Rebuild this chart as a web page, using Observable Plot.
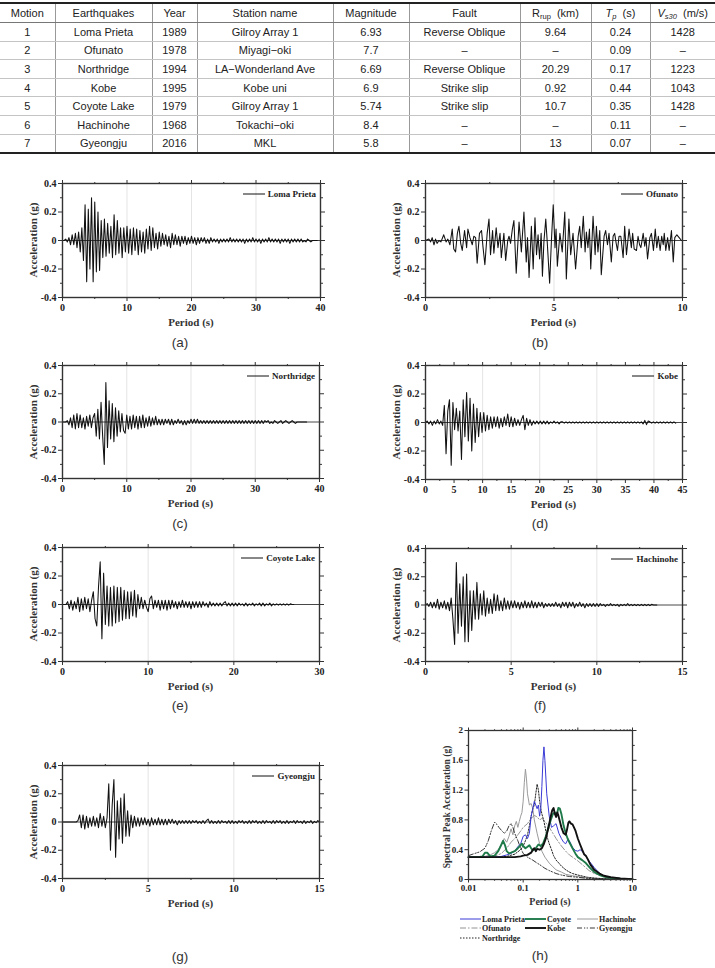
<!DOCTYPE html>
<html><head><meta charset="utf-8">
<script src="https://cdn.jsdelivr.net/npm/d3@7"></script>
<script src="https://cdn.jsdelivr.net/npm/@observablehq/plot@0.6"></script>
<style>
body{margin:0;background:#fff;}
#page{position:relative;width:715px;height:968px;overflow:hidden;background:#fff;}
#tbl{position:absolute;left:0;top:2px;border-collapse:collapse;table-layout:fixed;width:715px;font-family:"Liberation Sans",Arial,sans-serif;font-size:11px;color:#222;}
#tbl td,#tbl th{font-weight:normal;text-align:center;padding:0;border-left:1px solid #999;border-right:1px solid #999;border-bottom:1px solid #c4c4c4;height:17.6px;line-height:16px;white-space:nowrap;}
#tbl th{border-top:2px solid #222;border-bottom:1px solid #777;height:18px;}
#tbl tr:last-child td{border-bottom:2px solid #222;}
#tbl td:first-child,#tbl th:first-child{border-left:none;}
#tbl td:last-child,#tbl th:last-child{border-right:none;}
#tbl sub{font-size:7.5px;vertical-align:-2px;line-height:0;}
.cap{position:absolute;transform:translate(-50%,-50%);font-family:"Liberation Sans",Arial,sans-serif;font-size:13.5px;color:#333;white-space:nowrap;}
.axl{position:absolute;font-family:"Liberation Serif","Times New Roman",serif;font-weight:bold;color:#333;white-space:nowrap;}
.leg{position:absolute;display:flex;align-items:center;font-family:"Liberation Serif","Times New Roman",serif;font-weight:bold;color:#222;white-space:nowrap;}
</style></head>
<body><div id="page"></div>
<script>
// ---------------- table data ----------------
const motions = [1,2,3,4,5,6,7];
const earthquakes = ["Loma Prieta","Ofunato","Northridge","Kobe","Coyote Lake","Hachinohe","Gyeongju"];
const years = [1989,1978,1994,1995,1979,1968,2016];
const stations = ["Gilroy Array 1","Miyagi\u2212oki","LA\u2212Wonderland Ave","Kobe uni","Gilroy Array 1","Tokachi\u2212oki","MKL"];
const magnitudes = ["6.93","7.7","6.69","6.9","5.74","8.4","5.8"];
const faults = ["Reverse Oblique","\u2013","Reverse Oblique","Strike slip","Strike slip","\u2013","\u2013"];
const rrup = ["9.64","\u2013","20.29","0.92","10.7","\u2013","13"];
const tp = ["0.24","0.09","0.17","0.44","0.35","0.11","0.07"];
const vs30 = ["1428","\u2013","1223","1043","1428","\u2013","\u2013"];
const headers = ["Motion","Earthquakes","Year","Station name","Magnitude","Fault","R<sub>rup</sub>&nbsp;&nbsp;(km)","<i>T<sub>p</sub></i>&nbsp;&nbsp;(s)","<i>V<sub>s30</sub></i>&nbsp;&nbsp;(m/s)"];

// ---------------- acceleration time histories (units of 0.01 g, uniform step) ----------------
const lomaDt = 0.25;
const lomaAcc = [0,0,1,-1, 2,-3,4,-3, 5,-5,6,-8, 9,-14,25,-29, 22,-20,30,-29, 27,-22,20,-21, 14,-12,15,-11,
 12,-9,10,-12, 18,-10,14,-9, 9,-12,9,-8, 10,-9,8,-10, 9,-7,8,-10, 7,-8,6,-9, 8,-6,10,-7, 9,-5,5,-6,
 6,-4,5,-3, 4,-4,3,-5, 5,-3,4,-3, 3,-4,3,-2, 3,-3,2,-2, 3,-2,2,-3, 2,-2,2,-1, 2,-2,1,-2, 2,-1,1,-1,
 1,-2,1,-1, 1,-1,1,-1, 2,-1,1,-1, 1,-1,1,-1, 1,-2,1,-1, 1,-1,2,-1, 1,-1,1,-2, 1,-1,1,-1, 2,-1,1,-1,
 1,-1,1,-2, 1,-1,1,-1, 1,-2,1,-1, 1,-1,1,-1, 1,-1,0,-1, 1,0,-1,0, 0,0,0];

// Ofunato: [time s, acceleration g]
const ofunatoAcc = [[0,0],[0.13,0.01],[0.2,-0.01],[0.26,0.02],[0.33,-0.03],[0.39,0.01],[0.45,-0.02],[0.52,0.0],[0.6,-0.01],[0.71,0.04],[0.8,-0.01],[0.87,0.01],[0.95,-0.03],[1.04,0.08],[1.1,-0.06],[1.17,-0.08],[1.24,0.05],[1.30,0.10],[1.37,-0.02],[1.43,-0.07],[1.52,0.07],[1.60,-0.05],[1.65,0.08],[1.73,0.02],[1.82,-0.03],[1.88,0.03],[1.95,0.02],[2.01,-0.16],[2.10,0.05],[2.18,0.07],[2.24,-0.05],[2.31,-0.17],[2.40,0.05],[2.47,0.15],[2.53,-0.10],[2.61,0.07],[2.66,-0.09],[2.75,0.09],[2.82,-0.05],[2.90,0.05],[2.95,-0.12],[3.05,0.05],[3.12,-0.14],[3.20,0.0],[3.25,0.03],[3.31,-0.02],[3.38,0.08],[3.44,0.14],[3.53,-0.23],[3.64,0.13],[3.73,-0.08],[3.83,0.20],[3.92,-0.15],[3.97,0.02],[4.03,-0.26],[4.12,0.10],[4.19,-0.20],[4.26,0.16],[4.32,-0.10],[4.38,0.04],[4.44,-0.13],[4.50,0.05],[4.55,-0.25],[4.61,0.0],[4.68,0.15],[4.74,-0.02],[4.83,-0.30],[4.90,0.0],[4.97,0.25],[5.04,-0.05],[5.08,0.08],[5.13,-0.18],[5.23,0.05],[5.32,-0.08],[5.37,0.06],[5.42,0.20],[5.48,-0.27],[5.58,0.15],[5.65,-0.10],[5.74,0.05],[5.84,-0.20],[5.94,0.03],[6.00,0.10],[6.06,-0.05],[6.14,0.17],[6.21,-0.08],[6.26,0.06],[6.32,-0.05],[6.38,0.08],[6.43,-0.20],[6.52,0.17],[6.60,-0.10],[6.65,0.10],[6.71,-0.08],[6.78,0.07],[6.84,-0.24],[6.95,0.03],[7.01,0.07],[7.08,-0.03],[7.14,0.05],[7.23,-0.15],[7.30,0.03],[7.36,0.05],[7.42,-0.02],[7.47,-0.07],[7.53,0.03],[7.60,0.03],[7.69,-0.12],[7.75,0.10],[7.82,-0.10],[7.92,0.08],[8.01,-0.05],[8.06,0.05],[8.12,-0.06],[8.21,-0.07],[8.27,0.03],[8.33,-0.03],[8.38,-0.05],[8.47,0.05],[8.53,-0.04],[8.58,0.02],[8.64,-0.13],[8.73,0.02],[8.79,0.05],[8.87,-0.07],[8.94,0.08],[9.00,-0.05],[9.06,0.03],[9.13,-0.07],[9.19,0.03],[9.25,-0.03],[9.29,0.05],[9.35,-0.07],[9.42,0.02],[9.48,-0.07],[9.57,0.07],[9.64,-0.15],[9.70,0.02],[9.78,0.04],[9.87,0.02],[9.96,0.0]];

const northDt = 0.25;
const northAcc = [0,0,0,1,-2,3,-4,5,-5,6,
 -4,5,-4,3,-5,4,-3,5,-4,3,
 6,-10,9,-12,14,-10,-30,28,-18,15,
 -12,13,-14,10,-10,8,-7,6,-6,-8,
 5,-5,4,-5,5,-4,4,-5,4,-4,
 5,-4,3,-3,4,-3,3,-2,4,-2,
 2,-2,2,-2,2,-1,2,-2,2,-2,
 1,-1,2,-1,1,-2,1,-2,1,-1,
 2,-1,2,-1,2,-1,1,-1,1,-1,
 1,-1,1,-1,1,-1,1,-1,1,-1,
 1,-1,1,-1,1,-1,1,-1,1,-1,
 1,-1,1,-1,1,-1,1,-1,1,-1,
 1,-1,1,-1,1,-1,1,0,1,-1,
 0,-1,1,0,-1,0,1,-1,0,1,
 0,-1,0,1,0,-1,0,0,0,0,
 0,0,0];

const kobeDt = 0.3;
const kobeAcc = [0,1,-1,1,-2,1,-1,2,-1,1,
 -2,12,-22,8,16,-30,14,-5,10,-6,
 8,-26,16,-10,21,-13,17,-20,13,-14,
 10,-10,7,-7,7,-6,5,-5,4,-4,
 4,-3,4,-4,3,-3,4,-2,6,-3,
 4,-3,3,-2,2,-2,2,5,-5,3,
 -2,2,-2,1,-1,1,-1,1,-1,1,
 -1,1,-1,0.5,-0.5,1,-0.5,0.5,-1,0.5,
 0.5,-0.5,0.5,-0.5,0.5,-0.5,0.5,-0.5,0.5,-0.5,
 0.5,-0.5,0.5,-0.5,0.5,-0.5,0.5,-0.5,0.5,-0.5,
 0.5,-0.5,0.5,-0.5,0.5,-0.5,0.5,-0.5,0.5,-0.5,
 0.5,-0.5,0.5,-0.5,0.5,-0.5,0.5,-0.5,0.5,-0.5,
 0.5,-0.5,0.5,-0.5,0.5,-0.5,
 0.5,-1,1.5,-1.5,1,
 0.5,-0.5,0.5,-0.5,0.5,-0.5,0.5,-0.5,0.5,-0.5,0.5,-0.5,0.5,-0.5,0.5,-0.5];

const coyoteDt = 0.2;
const coyoteAcc = [0,0,0,2,-3,3,-4,2,-3,5,
 -5,4,-4,5,-3,4,-5,3,9,-10,
 -15,12,30,-24,22,-14,13,-15,12,-15,
 13,-13,12,-12,12,-11,10,-10,9,-10,
 9,-8,10,-9,7,-3,5,-3,3,-2,
 -5,4,6,-3,3,-2,3,-4,3,-3,
 3,-4,3,-3,3,-2,2,-3,2,-2,
 3,-2,2,-2,2,-3,2,-2,2,-2,
 2,-2,2,-1,1,-2,2,-1,1,-1,
 1,-1,1,-1,1,2,-1,1,-1,1,
 -1,1,-1,1,-0.5,0.5,-1,1,-1,0.5,
 -0.5,1,-1,0.5,-0.5,1,-1,1,-1,0.5,
 -0.5,1,-1,0.5,-0.5,0.5,-0.5,0.5,-0.5,0.5,
 -0.5,0.5,-0.5,0.5,0,0];

const hachDt = 0.1;
const hachAcc = [0,1,-1,2,-2,2,-2,4,-3,2,
 -2,3,-3,2,-4,5,-10,-28,30,-20,
 15,-15,20,-26,22,-26,10,-18,10,-10,
 16,-10,8,-7,10,-8,5,-6,4,-6,
 8,-4,7,-4,3,-4,5,-3,3,-3,
 3,-2,3,-2,2,-3,2,-2,3,-2,
 2,-2,3,-2,2,-2,2,-1,2,-2,
 1,-1,1,-1,1,-1,2,-1,1,-2,
 2,-1,2,-2,2,-1,2,-2,1,-1,
 2,-1,1,-2,1,-1,1,-1,1,-1,
 1,-1,1,-0.5,0.5,-1,0.5,-0.5,1,-0.5,
 0.5,-0.5,0.5,-1,0.5,-0.5,0.5,-0.5,1,-0.5,
 0.5,-0.5,0.5,-0.5,0.5,-0.5,0.5,-0.5,0.5,-0.5,
 0.5,-0.5,0.5,0,0,0];

const gyeongDt = 0.1;
const gyeongAcc = [0,0,0,0,0,0,0,0,0,
 1,5,-4,5,-5,4,-4,3,-3,4,-3,3,-4,6,-3,4,-4,3,
 27,-20,12,30,-25,15,-12,17,-15,20,-10,8,-10,
 5,-4,4,-3,3,-3,3,-2,3,-2,2,-3,3,-2,2,-2,3,-2,2,-2,2,-2,2,-1,2,-1,1,-2,1,-1,1,
 -1,1,-1,1,-1,1,-0.5,1,-1,0.5, -1,1,-1,1,2,-1,1,-1,0.5,-1,
 1,-1,1,-0.5,0.5,-1,1,-1,1,-1, 0.5,-1,1,-0.5,1,-1,0.5,-1,1,-1,
 1,-0.5,1,-1,0.5,-1,1,-1,1,-0.5, 0.5,-1,1,-1,1,-0.5,1,-1,0.5,-1,
 1,-1,0.5,-0.5,1,-1,1,-0.5,0.5,-1, 1,-1,0.5,-0.5,1,-1,0.5,-0.5,1,0];

// ---------------- response spectra: [period s, spectral acceleration g] ----------------
const lomaSa = [[0.01,0.3],[0.02,0.3],[0.03,0.3],[0.04,0.31],[0.05,0.33],[0.06,0.35],[0.07,0.38],[0.08,0.44],[0.09,0.48],[0.1,0.58],[0.11,0.6],[0.12,0.55],[0.13,0.62],[0.14,0.85],[0.15,0.95],[0.16,1.05],[0.17,1.0],[0.18,0.95],[0.19,1.0],[0.2,0.85],[0.21,0.95],[0.22,1.25],[0.23,1.6],[0.24,1.78],[0.25,1.6],[0.27,1.15],[0.3,0.85],[0.33,0.7],[0.36,0.72],[0.4,0.75],[0.45,0.62],[0.5,0.55],[0.55,0.5],[0.6,0.48],[0.65,0.53],[0.7,0.52],[0.8,0.43],[0.9,0.39],[1.0,0.38],[1.1,0.4],[1.2,0.38],[1.4,0.31],[1.6,0.25],[2.0,0.16],[2.5,0.08],[3,0.05],[4,0.025],[6,0.012],[10,0.005]];
const coyoteSa = [[0.01,0.3],[0.015,0.3],[0.018,0.31],[0.02,0.36],[0.022,0.36],[0.025,0.31],[0.03,0.32],[0.035,0.38],[0.04,0.47],[0.043,0.52],[0.047,0.45],[0.05,0.38],[0.055,0.35],[0.06,0.36],[0.07,0.38],[0.08,0.42],[0.09,0.46],[0.095,0.48],[0.1,0.45],[0.11,0.42],[0.12,0.44],[0.13,0.46],[0.14,0.42],[0.15,0.39],[0.17,0.42],[0.19,0.47],[0.21,0.45],[0.23,0.48],[0.26,0.58],[0.29,0.7],[0.32,0.8],[0.35,0.88],[0.38,0.9],[0.41,0.86],[0.44,0.96],[0.47,0.95],[0.5,0.88],[0.55,0.72],[0.6,0.62],[0.65,0.55],[0.7,0.5],[0.8,0.42],[0.9,0.35],[1.0,0.3],[1.2,0.26],[1.4,0.22],[1.7,0.15],[2,0.1],[2.5,0.06],[3,0.04],[4,0.02],[6,0.01],[10,0.005]];
const hachSa = [[0.01,0.3],[0.015,0.3],[0.02,0.31],[0.025,0.33],[0.03,0.36],[0.035,0.4],[0.04,0.47],[0.045,0.55],[0.05,0.5],[0.055,0.58],[0.06,0.68],[0.065,0.6],[0.07,0.72],[0.075,0.78],[0.08,0.7],[0.085,0.78],[0.09,0.85],[0.095,0.9],[0.1,1.05],[0.105,1.3],[0.11,1.48],[0.115,1.35],[0.12,1.15],[0.13,1.0],[0.14,1.02],[0.15,0.95],[0.16,0.8],[0.18,0.62],[0.2,0.48],[0.22,0.38],[0.25,0.3],[0.3,0.22],[0.35,0.17],[0.4,0.13],[0.5,0.1],[0.6,0.07],[0.8,0.05],[1,0.04],[1.5,0.02],[2,0.015],[3,0.01],[5,0.005],[10,0.002]];
const ofunatoSa = [[0.01,0.3],[0.02,0.3],[0.03,0.31],[0.04,0.35],[0.05,0.42],[0.06,0.5],[0.07,0.55],[0.08,0.6],[0.09,0.65],[0.1,0.7],[0.12,0.75],[0.14,0.82],[0.16,0.86],[0.18,0.84],[0.2,0.8],[0.22,0.82],[0.25,0.78],[0.3,0.7],[0.35,0.62],[0.4,0.55],[0.5,0.45],[0.6,0.38],[0.7,0.33],[0.8,0.3],[1,0.25],[1.3,0.18],[1.6,0.12],[2,0.08],[3,0.04],[5,0.015],[10,0.005]];
const northSa = [[0.01,0.3],[0.03,0.3],[0.05,0.31],[0.07,0.34],[0.09,0.4],[0.1,0.45],[0.11,0.52],[0.12,0.6],[0.13,0.72],[0.14,0.85],[0.15,0.95],[0.16,1.0],[0.17,1.15],[0.18,1.28],[0.19,1.2],[0.2,1.05],[0.21,0.95],[0.22,0.88],[0.24,0.78],[0.26,0.65],[0.28,0.55],[0.3,0.48],[0.33,0.4],[0.36,0.32],[0.4,0.26],[0.45,0.22],[0.5,0.18],[0.6,0.13],[0.7,0.1],[0.8,0.08],[1,0.06],[1.5,0.03],[2,0.02],[3,0.01],[10,0.002]];
const kobeSa = [[0.01,0.3],[0.03,0.3],[0.05,0.3],[0.07,0.3],[0.09,0.31],[0.1,0.32],[0.12,0.33],[0.14,0.36],[0.15,0.4],[0.16,0.42],[0.17,0.38],[0.18,0.41],[0.2,0.4],[0.22,0.42],[0.24,0.48],[0.26,0.55],[0.28,0.65],[0.3,0.75],[0.32,0.85],[0.34,0.93],[0.36,0.96],[0.38,0.88],[0.4,0.84],[0.42,0.9],[0.44,0.86],[0.47,0.78],[0.5,0.7],[0.55,0.62],[0.6,0.6],[0.63,0.66],[0.67,0.76],[0.7,0.78],[0.75,0.75],[0.8,0.74],[0.85,0.7],[0.9,0.66],[1.0,0.55],[1.1,0.47],[1.2,0.4],[1.3,0.34],[1.4,0.32],[1.5,0.28],[1.7,0.2],[2,0.13],[2.5,0.08],[3,0.05],[4,0.03],[6,0.015],[10,0.005]];
const gyeongSa = [[0.01,0.32],[0.013,0.35],[0.016,0.37],[0.02,0.42],[0.023,0.52],[0.026,0.65],[0.03,0.77],[0.033,0.74],[0.036,0.7],[0.04,0.66],[0.045,0.62],[0.05,0.65],[0.055,0.72],[0.06,0.75],[0.065,0.7],[0.07,0.62],[0.08,0.52],[0.09,0.42],[0.1,0.35],[0.12,0.3],[0.15,0.26],[0.18,0.22],[0.2,0.2],[0.25,0.15],[0.3,0.12],[0.4,0.08],[0.5,0.06],[0.7,0.04],[1,0.03],[1.5,0.015],[2,0.01],[3,0.005],[10,0.002]];

// ---------------- axis ticks ----------------
const accMajor = [-0.4,-0.2,0,0.2,0.4];
const accMinor = [-0.3,-0.1,0.1,0.3];
const saMajor = [0,0.4,0.8,1.2,1.6,2];
const saMinor = [0.2,0.6,1.0,1.4,1.8];
const periodMajor = [0.01,0.1,1,10];
const periodMinor = [0.02,0.03,0.04,0.05,0.06,0.07,0.08,0.09,0.2,0.3,0.4,0.5,0.6,0.7,0.8,0.9,2,3,4,5,6,7,8,9];

// ================= rendering =================
const page = document.getElementById("page");

// table
(function(){
  const t = document.createElement("table"); t.id = "tbl";
  const widths = [55,97,45,136,76,111,71,59,65];
  let html = "<colgroup>" + widths.map(w=>`<col style="width:${w}px">`).join("") + "</colgroup>";
  html += "<tr>" + headers.map(h=>`<th>${h}</th>`).join("") + "</tr>";
  motions.forEach((m,i)=>{
    html += "<tr>" + [m,earthquakes[i],years[i],stations[i],magnitudes[i],faults[i],rrup[i],tp[i],vs30[i]].map(v=>`<td>${v}</td>`).join("") + "</tr>";
  });
  t.innerHTML = html;
  page.appendChild(t);
})();

function addDiv(cls, html, css){ const d=document.createElement("div"); d.className=cls; d.innerHTML=html; d.style.cssText+=css; page.appendChild(d); return d; }
function place(svg, left, top){ svg.style.position="absolute"; svg.style.left=left+"px"; svg.style.top=top+"px"; page.appendChild(svg); }

const ML=62, MR=14, MT=10, MB=30;
const axisStyle = {fontFamily:"'Liberation Serif','Times New Roman',serif", fontWeight:"bold", fontSize:"10px", color:"#222", background:"transparent", overflow:"visible"};
const fmtAcc = d => d===0 ? "0" : d.toFixed(1);

function frameAxes(xMaj, xMin, yMaj, yMin, xFmt, yFmt, tsz){
  return [
    Plot.axisX(xMaj,{anchor:"bottom",tickSize:tsz,tickPadding:2,tickFormat:xFmt,label:null,stroke:"#333"}),
    Plot.axisX(xMin,{anchor:"bottom",tickSize:tsz/2,fill:"none",label:null,stroke:"#333"}),
    Plot.axisX(xMaj,{anchor:"top",tickSize:tsz,fill:"none",label:null,stroke:"#333"}),
    Plot.axisX(xMin,{anchor:"top",tickSize:tsz/2,fill:"none",label:null,stroke:"#333"}),
    Plot.axisY(yMaj,{anchor:"left",tickSize:tsz,tickPadding:2,tickFormat:yFmt,label:null,stroke:"#333"}),
    Plot.axisY(yMin,{anchor:"left",tickSize:tsz/2,fill:"none",label:null,stroke:"#333"}),
    Plot.axisY(yMaj,{anchor:"right",tickSize:tsz,fill:"none",label:null,stroke:"#333"}),
    Plot.axisY(yMin,{anchor:"right",tickSize:tsz/2,fill:"none",label:null,stroke:"#333"})
  ];
}

function toRows(vals, dt){ return vals.map((v,i)=>({t:i*dt, a:v/100})); }

const panels = [
  {name:"Loma Prieta", rows:toRows(lomaAcc,lomaDt), xMax:40, step:10, grid:[10,20,30], L:62,T:183,R:320,B:297, cap:"(a)", cx:180, cy:342},
  {name:"Ofunato", rows:ofunatoAcc.map(([t,a])=>({t,a})), xMax:10, step:5, grid:[5], L:425,T:183,R:682,B:297, cap:"(b)", cx:540, cy:342},
  {name:"Northridge", rows:toRows(northAcc,northDt), xMax:40, step:10, grid:[10,20,30], L:62,T:365,R:319,B:478, cap:"(c)", cx:180, cy:523},
  {name:"Kobe", rows:toRows(kobeAcc,kobeDt), xMax:45, step:5, grid:[10,20,30,40], L:425,T:365,R:682,B:479, cap:"(d)", cx:540, cy:523},
  {name:"Coyote Lake", rows:toRows(coyoteAcc,coyoteDt), xMax:30, step:10, grid:[10,20], L:62,T:547,R:319,B:661, cap:"(e)", cx:180, cy:705},
  {name:"Hachinohe", rows:toRows(hachAcc,hachDt), xMax:15, step:5, grid:[5,10], L:425,T:548,R:682,B:661, cap:"(f)", cx:540, cy:705},
  {name:"Gyeongju", rows:toRows(gyeongAcc,gyeongDt), xMax:15, step:5, grid:[5,10], L:62,T:765,R:319,B:878, cap:"(g)", cx:180, cy:956}
];

panels.forEach(p=>{
  const fw=p.R-p.L, fh=p.B-p.T;
  const xMaj = d3.range(0, p.xMax+1e-9, p.step);
  const xMin = d3.range(p.step/2, p.xMax, p.step);
  const svg = Plot.plot({
    width: fw+ML+MR, height: fh+MT+MB, marginLeft:ML, marginRight:MR, marginTop:MT, marginBottom:MB,
    x:{domain:[0,p.xMax]}, y:{domain:[-0.4,0.4]},
    style: axisStyle,
    marks:[
      Plot.gridX(p.grid,{stroke:"#d8d8d8",strokeOpacity:1,strokeWidth:0.7}),
      Plot.ruleY([0],{stroke:"#333",strokeWidth:0.9}),
      Plot.line(p.rows,{x:"t",y:"a",stroke:"#111",strokeWidth:1.05}),
      Plot.frame({stroke:"#333",strokeWidth:1.4}),
      ...frameAxes(xMaj,xMin,accMajor,accMinor,d=>String(d),fmtAcc,4)
    ]
  });
  place(svg, p.L-ML, p.T-MT);
  addDiv("axl","Acceleration (g)",`left:${p.L-29}px;top:${(p.T+p.B)/2}px;font-size:11px;transform:translate(-50%,-50%) rotate(-90deg);`);
  addDiv("axl","Period (s)",`left:${(p.L+p.R)/2}px;top:${p.B+25}px;font-size:11px;transform:translate(-50%,-50%);`);
  addDiv("leg",`<svg width="22" height="4"><line x1="0" y1="2" x2="22" y2="2" stroke="#111" stroke-width="1"/></svg><span style="margin-left:3px">${p.name}</span>`,
    `right:${715-(p.R-4)}px;top:${p.T+5}px;height:12px;font-size:9px;`);
  addDiv("cap",p.cap,`left:${p.cx}px;top:${p.cy}px;`);
});

// ---------------- (h) response spectra ----------------
const spectra = [
  {name:"Hachinohe", data:hachSa, stroke:"#9a9a9a", w:1, dash:null},
  {name:"Ofunato", data:ofunatoSa, stroke:"#888", w:0.9, dash:"6,2,1.5,2"},
  {name:"Gyeongju", data:gyeongSa, stroke:"#222", w:0.9, dash:"5,2,1.2,1.5,1.2,2"},
  {name:"Northridge", data:northSa, stroke:"#222", w:1, dash:"1.5,1.5"},
  {name:"Loma Prieta", data:lomaSa, stroke:"#3a3ad6", w:1, dash:null},
  {name:"Coyote", data:coyoteSa, stroke:"#1f7a4a", w:1.9, dash:null},
  {name:"Kobe", data:kobeSa, stroke:"#111", w:1.9, dash:null}
];
(function(){
  const L=468,T=730,R=632,B=879, fw=R-L, fh=B-T;
  const svg = Plot.plot({
    width: fw+ML+MR, height: fh+MT+MB, marginLeft:ML, marginRight:MR, marginTop:MT, marginBottom:MB,
    x:{type:"log", domain:[0.01,10]}, y:{domain:[0,2]},
    style: {...axisStyle, fontSize:"9px"},
    marks:[
      ...spectra.map(s=>Plot.line(s.data,{x:d=>d[0],y:d=>d[1],stroke:s.stroke,strokeWidth:s.w,strokeDasharray:s.dash||undefined})),
      Plot.frame({stroke:"#333",strokeWidth:1.3}),
      ...frameAxes(periodMajor,periodMinor,saMajor,saMinor,d=>String(d),d=>String(d),3.5)
    ]
  });
  place(svg, L-ML, T-MT);
  addDiv("axl","Spectral Peak Acceleration (g)",`left:${L-21}px;top:${(T+B)/2+2}px;font-size:9.5px;transform:translate(-50%,-50%) rotate(-90deg);`);
  addDiv("axl","Period (s)",`left:${(L+R)/2}px;top:${B+22}px;font-size:10px;transform:translate(-50%,-50%);`);
  const legPos = {"Loma Prieta":[460,919],"Coyote":[525,919],"Hachinohe":[577,919],"Ofunato":[460,928],"Kobe":[525,928],"Gyeongju":[577,928],"Northridge":[460,938]};
  ["Loma Prieta","Coyote","Hachinohe","Ofunato","Kobe","Gyeongju","Northridge"].forEach(n=>{
    const s = spectra.find(q=>q.name===n); const [x,y]=legPos[n];
    addDiv("leg",`<svg width="21" height="4"><line x1="0" y1="2" x2="21" y2="2" stroke="${s.stroke}" stroke-width="${s.w}" ${s.dash?`stroke-dasharray="${s.dash}"`:""}/></svg><span style="margin-left:1px">${n}</span>`,
      `left:${x}px;top:${y-6}px;height:12px;font-size:8px;`);
  });
  addDiv("cap","(h)",`left:540px;top:955px;`);
})();
</script>
</body></html>
